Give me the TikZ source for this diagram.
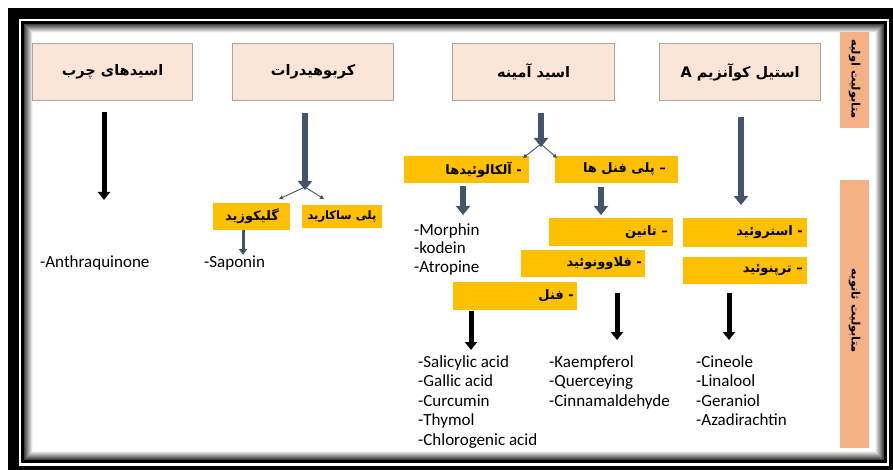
\documentclass[tikz,border=0pt]{standalone}
\usepackage{fontspec}
\setmainfont{Carlito}
\newfontfamily\fa[Script=Arabic]{DejaVu Sans}
\TeXXeTstate=1
\usetikzlibrary{arrows.meta}
\definecolor{slate}{HTML}{44546A}
\definecolor{gold}{HTML}{FFC000}
\definecolor{pinkbox}{HTML}{FBE5D6}
\definecolor{salmon}{HTML}{F4B183}
\definecolor{boxline}{HTML}{A6A6A6}
\begin{document}
\begin{tikzpicture}[x=1pt,y=-1pt,
  topbox/.style={draw=boxline, line width=1.2pt, fill=pinkbox, minimum width=160pt, minimum height=57pt, inner sep=0pt, anchor=north west, font=\fa\bfseries\fontsize{14.5}{16}\selectfont},
  ybox/.style={fill=gold, inner sep=0pt, anchor=north west},
  ytext/.style={font=\fa\bfseries\fontsize{13}{15}\selectfont, inner sep=0pt, anchor=east},
  sidebar/.style={fill=salmon, inner sep=0pt, anchor=north west, minimum width=29pt},
  sidetext/.style={font=\fa\bfseries\fontsize{11.5}{13}\selectfont, rotate=-90, inner sep=0pt},
  listtext/.style={font=\fontsize{17}{19.5}\selectfont, align=left, inner sep=0pt, anchor=base west},
  slatearrow/.style={draw=slate, line width=6pt, -{Triangle[width=14pt,length=9pt]}},
  smallslate/.style={draw=slate, line width=3pt, -{Triangle[width=8pt,length=6pt]}},
  blackarrow/.style={draw=black, line width=5pt, -{Triangle[width=12pt,length=8pt]}},
  thinarrow/.style={draw=slate, line width=0.9pt, -{Triangle[width=4pt,length=4pt]}},
]
\useasboundingbox (0,0) rectangle (893,470);
% frame
\fill[black] (8,8) rectangle (893,470);
\fill[white] (19,19) rectangle (889,466);
\fill[black] (21,21) rectangle (887,463);
\foreach \i in {0,...,8}{
  \pgfmathtruncatemacro\s{75-9*\i}
  \fill[black!\s] (24+\i,24+\i) rectangle (884-\i,460-\i);
}
\fill[white] (33,33) rectangle (875,451);

% side bars
\node[sidebar, minimum height=96pt] (primbar) at (840,32) {};
\node[sidetext] (primtext) at (854.5,79) {\beginR متابولیت اولیه\endR};
\node[sidebar, minimum height=268pt] (secbar) at (840,180) {};
\node[sidetext] (sectext) at (854.5,311) {\beginR متابولیت ثانویه\endR};

% top boxes
\node[topbox] (fat) at (32,43) {\beginR اسیدهای چرب\endR};
\node[topbox, minimum width=161pt] (carb) at (232,43) {\beginR کربوهیدرات\endR};
\node[topbox, minimum width=162pt] (amino) at (452,43) {\beginR اسید آمینه\endR};
\node[topbox, minimum width=161pt] (acetyl) at (659,43) {\beginR استیل کوآنزیم \beginL A\endL\endR};

% yellow boxes
\node[ybox, minimum width=77pt, minimum height=27pt] (glyc) at (213,203) {};
\node[ytext, anchor=center] (glyct) at (252,216.5) {\beginR گلیکوزید\endR};
\node[ybox, minimum width=80pt, minimum height=23pt] (polysac) at (302,205) {};
\node[ytext, anchor=center, font=\fa\bfseries\fontsize{11.5}{13}\selectfont] (polysact) at (342,216.5) {\beginR پلی ساکارید\endR};
\node[ybox, minimum width=125pt, minimum height=27pt] (alk) at (404,156) {};
\node[ytext] (alkt) at (522,169.5) {\beginR - آلکالوئیدها\endR};
\node[ybox, minimum width=123pt, minimum height=27pt] (polyph) at (555,156) {};
\node[ytext] (polypht) at (666,169.5) {\beginR – پلی فنل ها\endR};
\node[ybox, minimum width=124pt, minimum height=28pt] (tannin) at (549,218) {};
\node[ytext] (tannint) at (668,232) {\beginR – تانین\endR};
\node[ybox, minimum width=124pt, minimum height=27pt] (flav) at (521,250) {};
\node[ytext] (flavt) at (642,263.5) {\beginR - فلاوونوئید\endR};
\node[ybox, minimum width=124pt, minimum height=28pt] (phenol) at (453,282) {};
\node[ytext] (phenolt) at (574,296) {\beginR - فنل\endR};
\node[ybox, minimum width=124pt, minimum height=29pt] (steroid) at (683,218) {};
\node[ytext] (steroidt) at (803,232.5) {\beginR - استروئید\endR};
\node[ybox, minimum width=124pt, minimum height=27pt] (terp) at (683,257) {};
\node[ytext] (terpt) at (803,270.5) {\beginR – ترپنوئید\endR};

% lists (base = baseline of last line)
\node[listtext] (anth) at (40,267) {-Anthraquinone};
\node[listtext] (sapon) at (204,267) {-Saponin};
\node[listtext, font=\fontsize{17}{18.7}\selectfont] (alkl) at (414,272.4) {-Morphin\\-kodein\\-Atropine};
\node[listtext] (phenl) at (418,445) {-Salicylic acid\\-Gallic acid\\-Curcumin\\-Thymol\\-Chlorogenic acid};
\node[listtext] (flavl) at (549,406) {-Kaempferol\\-Querceying\\-Cinnamaldehyde};
\node[listtext] (terpl) at (696,425.5) {-Cineole\\-Linalool\\-Geraniol\\-Azadirachtin};

% arrow ends
\coordinate (fatA) at (104,112);   \coordinate (fatB) at (104,200);
\coordinate (carbA) at (305,113);  \coordinate (carbB) at (305,190);
\coordinate (carbS) at (305,187);  \coordinate (carbL) at (279,199); \coordinate (carbR) at (324,199);
\coordinate (sapA) at (243,230);   \coordinate (sapB) at (243,255);
\coordinate (aminoA) at (541,113); \coordinate (aminoB) at (541,147);
\coordinate (aminoS) at (541,144); \coordinate (aminoL) at (523,158); \coordinate (aminoR) at (557,158);
\coordinate (alkA) at (463,186);   \coordinate (alkB) at (463,215);
\coordinate (polyA) at (601,187);  \coordinate (polyB) at (601,215);
\coordinate (acetA) at (741,117);  \coordinate (acetB) at (741,205);
\coordinate (phenA) at (471,311);  \coordinate (phenB) at (471,350);
\coordinate (flavA) at (617,293);  \coordinate (flavB) at (617,340);
\coordinate (terpA) at (729,293);  \coordinate (terpB) at (729,340);

\draw[blackarrow] (fatA) -- (fatB);
\draw[slatearrow] (carbA) -- (carbB);
\draw[thinarrow] (carbS) -- (carbL);
\draw[thinarrow] (carbS) -- (carbR);
\draw[smallslate] (sapA) -- (sapB);
\draw[slatearrow] (aminoA) -- (aminoB);
\draw[thinarrow] (aminoS) -- (aminoL);
\draw[thinarrow] (aminoS) -- (aminoR);
\draw[slatearrow] (alkA) -- (alkB);
\draw[slatearrow] (polyA) -- (polyB);
\draw[slatearrow] (acetA) -- (acetB);
\draw[blackarrow] (phenA) -- (phenB);
\draw[blackarrow] (flavA) -- (flavB);
\draw[blackarrow] (terpA) -- (terpB);
\end{tikzpicture}
\end{document}
